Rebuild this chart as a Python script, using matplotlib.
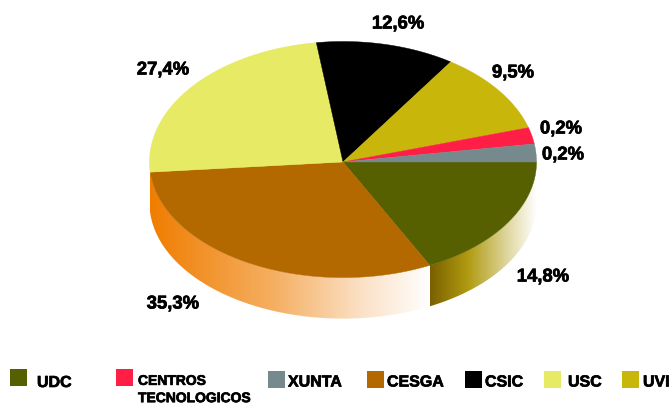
import numpy as np
import matplotlib
matplotlib.use('Agg')
import matplotlib.pyplot as plt
import matplotlib.patheffects as pe
from matplotlib.patches import Polygon, Rectangle
from matplotlib.colors import LinearSegmentedColormap

# printed labels, in drawing order clockwise from the east point
names = ['UDC', 'CESGA', 'USC', 'CSIC', 'UVI', 'CENTROS\nTECNOLOGICOS', 'XUNTA']
printed = [14.8, 35.3, 27.4, 12.6, 9.5, 0.2, 0.2]
# the wedges in the picture do not follow the labels, so these are read off the slices
drawn = [17.6, 31.0, 24.2, 11.6, 11.0, 2.2, 2.4]
colors = ['#566000', '#B36800', '#E6EA64', '#000000', '#C9B60A', '#FF1E46', '#76898D']

# label centres in pixels
label_xy = [(543, 277), (173, 304), (163, 70), (398, 24), (513, 73), (561, 129), (563, 155)]

# legend order and layout (square left, square top, text left, text centre y)
legend_order = ['UDC', 'CENTROS\nTECNOLOGICOS', 'XUNTA', 'CESGA', 'CSIC', 'USC', 'UVI']
legend_layout = [(10, 369, 37, 382.5), (116, 369, 138, 389.5), (268, 371, 288, 382),
                 (367, 371, 387, 382), (465, 371, 485, 382), (544, 371, 568, 382),
                 (622, 371, 643, 382)]

CX, CY = 343, 162
RX, RY_TOP, RY_BOTTOM = 193.5, 120.5, 115.6
DEPTH = 41

plt.rcParams['font.family'] = ['Liberation Sans', 'DejaVu Sans']

heavy = [pe.withStroke(linewidth=0.5, foreground='black')]


def rim_point(deg):
    t = np.radians(deg)
    ry = np.where(np.sin(t) > 0, RY_BOTTOM, RY_TOP)
    return CX + RX * np.cos(t), CY + ry * np.sin(t)


def gradient_rim(ax, start, end, x0, x1, stops):
    # side of the pie: top arc and the same arc moved down, filled with a horizontal gradient
    t = np.linspace(start, end, 150)
    x, y = rim_point(t)
    pts = np.r_[np.c_[x, y], np.c_[x[::-1], y[::-1] + DEPTH]]
    clip = Polygon(pts, closed=True, transform=ax.transData, facecolor='none', edgecolor='none')
    ax.add_patch(clip)
    cmap = LinearSegmentedColormap.from_list('rim', stops)
    img = ax.imshow(np.linspace(0, 1, 256)[None, :], cmap=cmap, aspect='auto',
                    extent=(x0, x1, 340, 150), interpolation='bilinear', zorder=1)
    img.set_clip_path(clip)


fig = plt.figure(figsize=(6.7, 4.05), dpi=100)
ax = fig.add_axes([0, 0, 1, 1])

edges = np.r_[0, np.cumsum(drawn)] / sum(drawn) * 360

# 1. the two visible sides
gradient_rim(ax, 0, edges[1], 430, 537,
             [(0, '#7A6000'), (0.35, '#B09A10'), (0.75, '#E2DBA8'), (1, '#FFFFFF')])
gradient_rim(ax, edges[1], 180, 150, 430,
             [(0, '#F07D00'), (0.45, '#F5B064'), (0.75, '#FBE0C4'), (1, '#FFFFFF')])

# 2. the top face
for i, c in enumerate(colors):
    t = np.linspace(edges[i], edges[i + 1], 120)
    x, y = rim_point(t)
    ax.add_patch(Polygon(np.r_[[[CX, CY]], np.c_[x, y]], closed=True, facecolor=c,
                         edgecolor=c, linewidth=0.3, zorder=2))

# 3. percent labels
for v, (x, y) in zip(printed, label_xy):
    ax.text(x, y, f'{v:.1f}%'.replace('.', ','), ha='center', va='center',
            fontsize=13.3, fontweight='bold', color='black', zorder=3, path_effects=heavy)

# 4. legend
for name, (sx, sy, tx, ty) in zip(legend_order, legend_layout):
    c = colors[names.index(name)]
    ax.add_patch(Rectangle((sx, sy), 16.5, 17, facecolor=c, edgecolor='none', zorder=3))
    size = 10 if '\n' in name else 11.5
    ax.text(tx, ty, name, ha='left', va='center', fontsize=size, fontweight='bold',
            color='black', linespacing=1.3, zorder=3, path_effects=heavy)

ax.set_xlim(0, 670)
ax.set_ylim(405, 0)
ax.axis('off')
fig.savefig('out.png', dpi=100, facecolor='white')
